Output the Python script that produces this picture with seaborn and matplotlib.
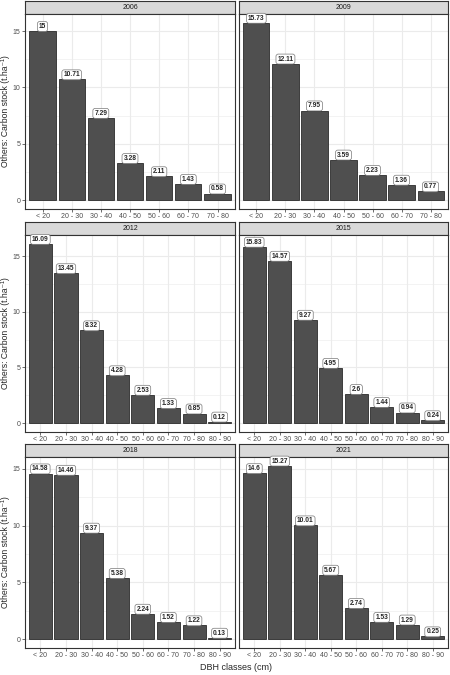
import matplotlib
matplotlib.use("Agg")
import matplotlib.pyplot as plt
import numpy as np
import pandas as pd
import seaborn as sns

# DBH class labels
CLASSES_7 = ["< 20", "20 - 30", "30 - 40", "40 - 50", "50 - 60", "60 - 70", "70 - 80"]
CLASSES_8 = CLASSES_7 + ["80 - 90"]

# carbon stock per year (t/ha)
Y2006 = [15, 10.71, 7.29, 3.28, 2.11, 1.43, 0.58]
Y2009 = [15.73, 12.11, 7.95, 3.59, 2.23, 1.36, 0.77]
Y2012 = [16.09, 13.45, 8.32, 4.28, 2.53, 1.33, 0.85, 0.12]
Y2015 = [15.83, 14.57, 9.27, 4.95, 2.6, 1.44, 0.94, 0.24]
Y2018 = [14.58, 14.46, 9.37, 5.38, 2.24, 1.52, 1.22, 0.13]
Y2021 = [14.6, 15.27, 10.01, 5.67, 2.74, 1.53, 1.29, 0.25]

YEARS = ["2006", "2009", "2012", "2015", "2018", "2021"]
VALUES = [Y2006, Y2009, Y2012, Y2015, Y2018, Y2021]
YTICKS = [0, 5, 10, 15]

sns.set_theme(style="white")
plt.rcParams["font.family"] = ["Liberation Sans", "DejaVu Sans"]

W, H = 450, 675
fig = plt.figure(figsize=(W / 100, H / 100), dpi=100)

# panel boxes in pixels: (left, right) per column, (top, bottom) per row
cols_px = [(25, 235), (239, 448)]
rows_px = [(14, 209), (235, 432), (457, 648)]
strip_h = 13

GRID = "#EBEBEB"
EDGE = "#333333"


def fmt(v):
    return f"{v:g}"


# facet strips first, so value labels may sit over them
for r in range(3):
    for c in range(2):
        x0, x1 = cols_px[c]
        top = rows_px[r][0]
        sax = fig.add_axes([x0 / W, 1 - top / H, (x1 - x0) / W, strip_h / H])
        sax.set_facecolor("#D9D9D9")
        sax.set_xticks([])
        sax.set_yticks([])
        for s in sax.spines.values():
            s.set_color(EDGE)
            s.set_linewidth(0.8)
        sax.text(0.5, 0.5, YEARS[2 * r + c], ha="center", va="center", fontsize=5,
                 color="#1A1A1A", transform=sax.transAxes)

for r in range(3):
    row_vals = VALUES[2 * r] + VALUES[2 * r + 1]
    ymax = max(row_vals)
    for c in range(2):
        k = 2 * r + c
        vals = VALUES[k]
        cats = CLASSES_7 if len(vals) == 7 else CLASSES_8
        df = pd.DataFrame({"dbh": cats, "carbon": vals})
        x0, x1 = cols_px[c]
        top, bot = rows_px[r]
        ax = fig.add_axes([x0 / W, 1 - bot / H, (x1 - x0) / W, (bot - top) / H])
        sns.barplot(data=df, x="dbh", y="carbon", order=cats, color="#4F4F4F",
                    saturation=1, width=0.9, edgecolor="#2B2B2B", linewidth=0.6, ax=ax)
        ax.set_xlim(-0.6, len(cats) - 0.4)
        ax.set_ylim(-0.05 * ymax, 1.05 * ymax)
        ax.set_yticks(YTICKS)
        ax.set_yticks([2.5, 7.5, 12.5], minor=True)
        ax.grid(True, which="major", color=GRID, lw=0.8, zorder=0)
        ax.grid(True, which="minor", axis="y", color=GRID, lw=0.4, zorder=0)
        ax.set_axisbelow(True)
        for s in ax.spines.values():
            s.set_color(EDGE)
            s.set_linewidth(0.8)
        ax.tick_params(axis="both", which="major", length=2, width=0.5, color=EDGE,
                       labelsize=5, labelcolor="#4D4D4D", pad=1.2, direction="out")
        ax.tick_params(axis="y", which="minor", length=0)
        ax.tick_params(bottom=True, left=True)
        ax.set_xlabel("")
        ax.set_ylabel("")
        if c == 1:
            ax.set_yticklabels([])
            ax.tick_params(axis="y", which="major", length=0)
        for i, v in enumerate(vals):
            ax.annotate(fmt(v), (i, v), xytext=(0, 0.8), textcoords="offset points",
                        ha="center", va="bottom", fontsize=4.8, fontweight="bold",
                        zorder=5, annotation_clip=False,
                        bbox=dict(boxstyle="round,pad=0.22,rounding_size=0.35",
                                  fc="white", ec="#777777", lw=0.5))
    # y title for the row, kept inside the left edge
    top, bot = rows_px[r]
    fig.text(1 / W, 1 - (top + bot) / 2 / H, "Others: Carbon stock (t.ha\u207b\u00b9)",
             rotation=90, ha="left", va="center", fontsize=6.2)

fig.text((25 + 448) / 2 / W, 1 - 668 / H, "DBH classes (cm)", ha="center", va="center",
         fontsize=6.5)

fig.savefig("out.png", dpi=100)
